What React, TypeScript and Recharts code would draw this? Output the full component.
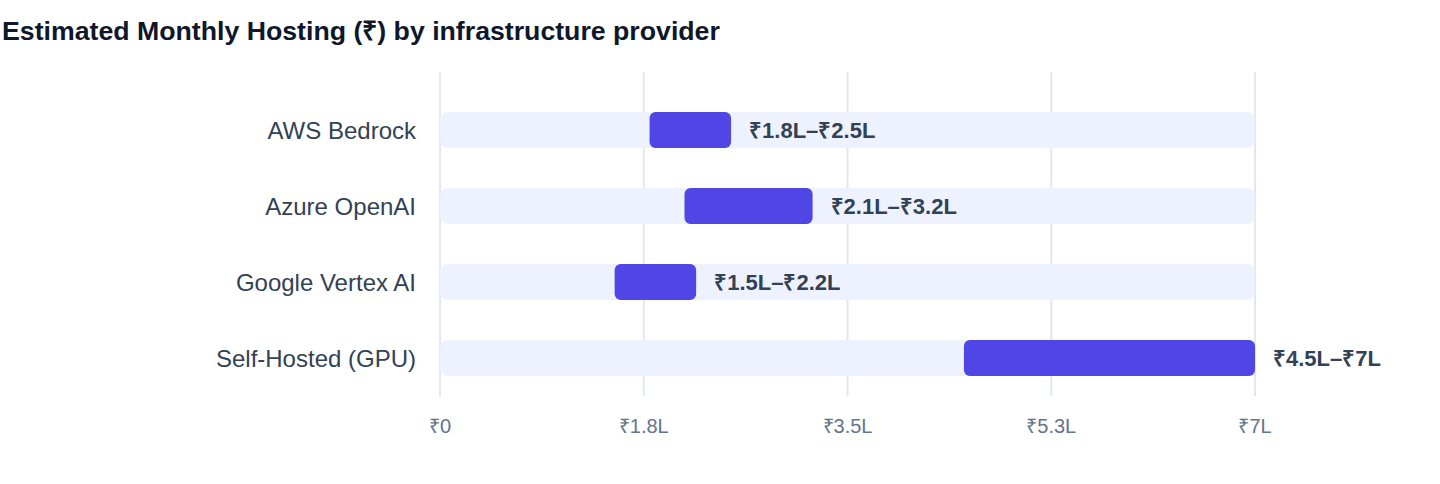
import React from "react";
import { BarChart, Bar, XAxis, YAxis, CartesianGrid, LabelList } from "recharts";

const providers = ["AWS Bedrock", "Azure OpenAI", "Google Vertex AI", "Self-Hosted (GPU)"];
const lowCost = [1.8, 2.1, 1.5, 4.5];
const highCost = [2.5, 3.2, 2.2, 7];
const xTicks = [0, 1.75, 3.5, 5.25, 7];

const fmt = (v: number) => (v === 0 ? "₹0" : `₹${Number.isInteger(v) ? v : v.toFixed(1)}L`);

const data = providers.map((name, i) => ({
  name,
  range: [lowCost[i], highCost[i]],
  label: `${fmt(lowCost[i])}–${fmt(highCost[i])}`,
}));

const font = "'Liberation Sans', Arial, Helvetica, sans-serif";

export default function App() {
  return (
    <div style={{ position: "absolute", left: 0, top: 0, width: 1440, height: 484, background: "#fff", fontFamily: font }}>
      <div
        style={{
          position: "absolute",
          left: 2,
          top: 18,
          fontSize: 26.7,
          lineHeight: 1,
          fontWeight: 700,
          color: "#0f172a",
          whiteSpace: "nowrap",
        }}
      >
        Estimated Monthly Hosting (₹) by infrastructure provider
      </div>
      <BarChart
        width={1440}
        height={484}
        data={data}
        layout="vertical"
        margin={{ top: 72, right: 185, left: 0, bottom: 58 }}
        style={{ position: "absolute", left: 0, top: 0 }}
      >
        <CartesianGrid horizontal={false} stroke="#e2e8f0" strokeWidth={2} />
        <XAxis
          type="number"
          domain={[0, 7]}
          ticks={xTicks}
          tickFormatter={fmt}
          axisLine={false}
          tickLine={false}
          tickSize={0}
          tickMargin={23}
          height={30}
          tick={{ fill: "#64748b", fontSize: 20, fontFamily: font }}
        />
        <YAxis
          type="category"
          dataKey="name"
          width={440}
          axisLine={false}
          tickLine={false}
          tickSize={0}
          tickMargin={24}
          padding={{ top: 20, bottom: 0 }}
          tick={{ fill: "#334155", fontSize: 24, fontFamily: font }}
        />
        <Bar
          dataKey="range"
          fill="#4f46e5"
          barSize={36}
          radius={6}
          background={{ fill: "#eef2ff", radius: 8 }}
          isAnimationActive={false}
        >
          <LabelList
            dataKey="label"
            position="right"
            offset={18}
            fill="#334155"
            style={{ fontSize: 22, fontWeight: 700, fontFamily: font }}
          />
        </Bar>
      </BarChart>
    </div>
  );
}
